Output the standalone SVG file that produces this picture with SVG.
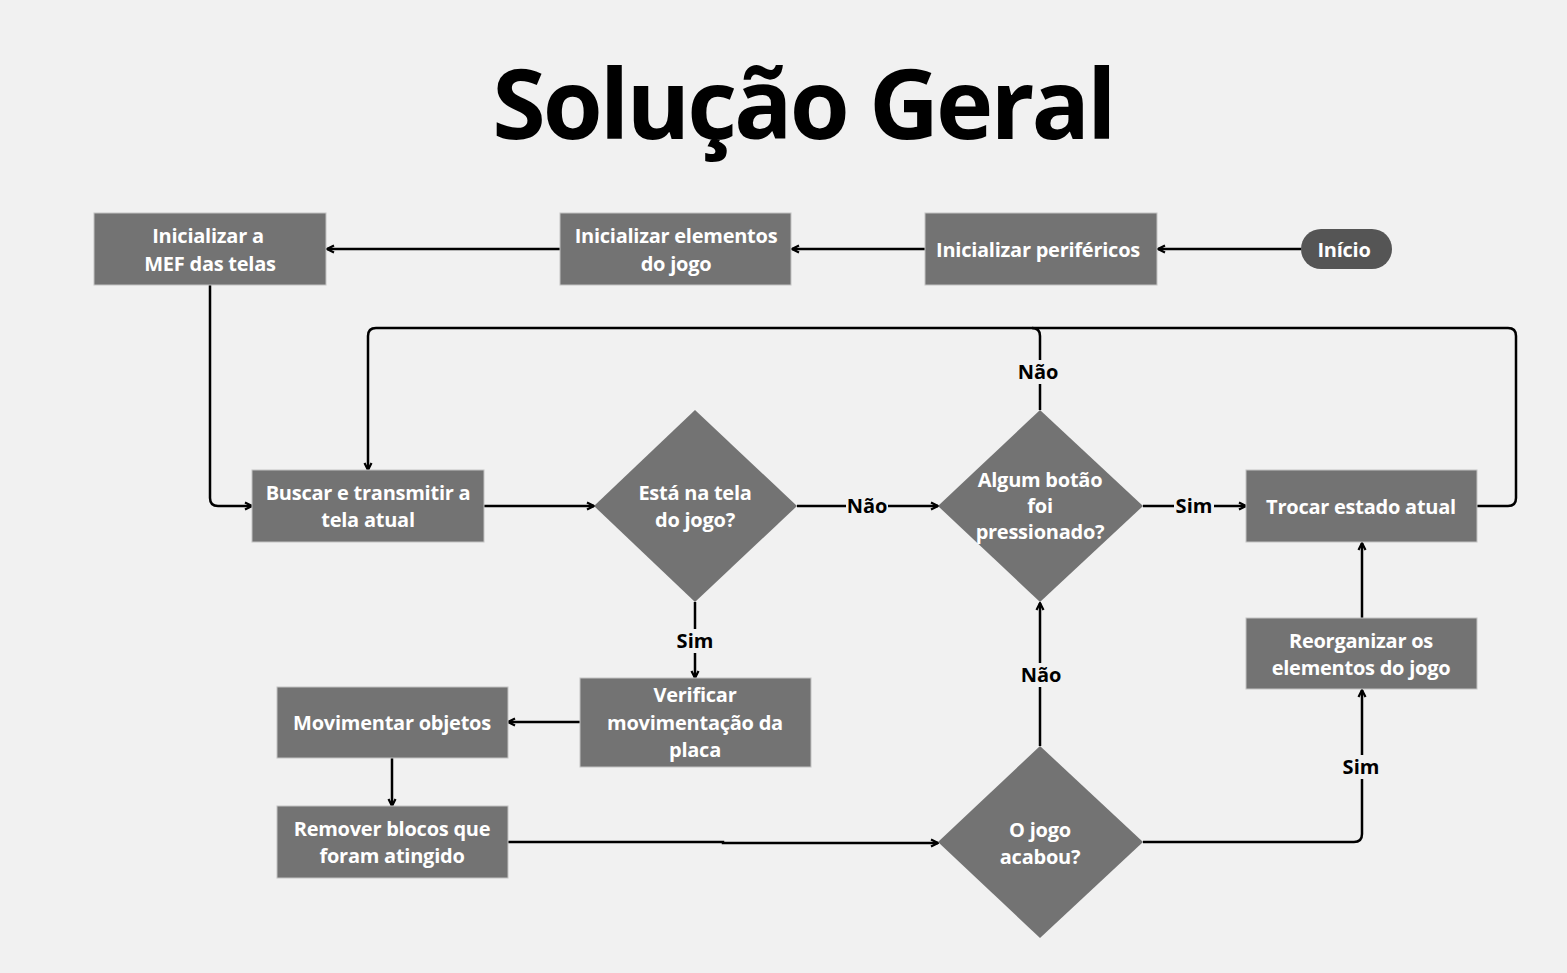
<svg xmlns="http://www.w3.org/2000/svg" width="1567" height="973" viewBox="0 0 1567 973">
<defs>
<style>
.box{fill:#737373;stroke:#c4c4c4;stroke-width:1}
.dia{fill:#737373}
.pill{fill:#555555}
.t{font-family:"Open Sans","Liberation Sans",sans-serif;font-weight:700;font-size:20px;fill:#ffffff;text-anchor:middle;letter-spacing:-0.25px}
.lbl{font-family:"Open Sans","Liberation Sans",sans-serif;font-weight:700;font-size:20px;fill:#000000;text-anchor:middle}
.lblbg{fill:#f1f1f1}
.c{fill:none;stroke:#000;stroke-width:2.5}
</style>
<marker id="ah" viewBox="0 0 10 10" refX="9" refY="5" markerWidth="10" markerHeight="10" markerUnits="userSpaceOnUse" orient="auto">
<path d="M2,1.5 L9,5 L2,8.5" fill="none" stroke="#000" stroke-width="2.2"/>
</marker>
</defs>
<rect width="1567" height="973" fill="#f1f1f1"/>
<text x="803" y="139" font-family="'Open Sans','Liberation Sans',sans-serif" font-weight="700" font-size="97" letter-spacing="-3" fill="#000" text-anchor="middle">Solução Geral</text>

<g id="connectors">
<path class="c" d="M1301 249 H1158" marker-end="url(#ah)"/>
<path class="c" d="M925 249 H792" marker-end="url(#ah)"/>
<path class="c" d="M560 249 H327" marker-end="url(#ah)"/>
<path class="c" d="M210 285 V498 Q210 506 218 506 H252" marker-end="url(#ah)"/>
<path class="c" d="M484 506 H594" marker-end="url(#ah)"/>
<path class="c" d="M797 506 H938" marker-end="url(#ah)"/>
<path class="c" d="M1143 506 H1246" marker-end="url(#ah)"/>
<path class="c" d="M1477 506 H1508 Q1516 506 1516 498 V336 Q1516 328 1508 328 H376 Q368 328 368 336 V470" marker-end="url(#ah)"/>
<path class="c" d="M1040 410 V336 Q1040 328 1032 328"/>
<path class="c" d="M695 602 V678" marker-end="url(#ah)"/>
<path class="c" d="M580 722 H508" marker-end="url(#ah)"/>
<path class="c" d="M392 758 V806" marker-end="url(#ah)"/>
<path class="c" d="M508 842 H723 V843 H938" marker-end="url(#ah)"/>
<path class="c" d="M1040 746 V603" marker-end="url(#ah)"/>
<path class="c" d="M1143 842 H1354 Q1362 842 1362 834 V690" marker-end="url(#ah)"/>
<path class="c" d="M1362 618 V543" marker-end="url(#ah)"/>
<g id="labels">
<rect class="lblbg" x="846" y="494" width="42" height="24"/>
<text class="lbl" x="867" y="513">Não</text>
<rect class="lblbg" x="1174" y="494" width="40" height="24"/>
<text class="lbl" x="1194" y="513">Sim</text>
<rect class="lblbg" x="1017" y="360" width="44" height="24"/>
<text class="lbl" x="1038" y="379">Não</text>
<rect class="lblbg" x="675" y="629" width="40" height="24"/>
<text class="lbl" x="695" y="648">Sim</text>
<rect class="lblbg" x="1019" y="663" width="44" height="24"/>
<text class="lbl" x="1041" y="682">Não</text>
<rect class="lblbg" x="1341" y="755" width="40" height="24"/>
<text class="lbl" x="1361" y="774">Sim</text>
</g>
</g>

<g id="inicio">
<rect class="pill" x="1301" y="229" width="91" height="40" rx="20" ry="20"/>
<text class="t" x="1344" y="257">Início</text>
</g>
<g id="perifericos">
<rect class="box" x="925" y="213" width="232" height="72"/>
<text class="t" x="1038" y="257">Inicializar periféricos</text>
</g>
<g id="elementos">
<rect class="box" x="560" y="213" width="231" height="72"/>
<text class="t" x="676" y="243">Inicializar elementos</text>
<text class="t" x="676" y="271">do jogo</text>
</g>
<g id="mef">
<rect class="box" x="94" y="213" width="232" height="72"/>
<text class="t" x="208" y="243">Inicializar a</text>
<text class="t" x="210" y="271">MEF das telas</text>
</g>
<g id="buscar">
<rect class="box" x="252" y="470" width="232" height="72"/>
<text class="t" x="368" y="500">Buscar e transmitir a</text>
<text class="t" x="368" y="527">tela atual</text>
</g>
<g id="esta-na-tela">
<polygon class="dia" points="695,410 797,506 695,602 594,506"/>
<text class="t" x="695" y="500">Está na tela</text>
<text class="t" x="695" y="527">do jogo?</text>
</g>
<g id="algum-botao">
<polygon class="dia" points="1040,410 1143,506 1040,602 938,506"/>
<text class="t" x="1040" y="487">Algum botão</text>
<text class="t" x="1040" y="513">foi</text>
<text class="t" x="1040" y="539">pressionado?</text>
</g>
<g id="trocar">
<rect class="box" x="1246" y="470" width="231" height="72"/>
<text class="t" x="1361" y="514">Trocar estado atual</text>
</g>
<g id="reorganizar">
<rect class="box" x="1246" y="618" width="231" height="71"/>
<text class="t" x="1361" y="648">Reorganizar os</text>
<text class="t" x="1361" y="675">elementos do jogo</text>
</g>
<g id="verificar">
<rect class="box" x="580" y="678" width="231" height="89"/>
<text class="t" x="695" y="702">Verificar</text>
<text class="t" x="695" y="730">movimentação da</text>
<text class="t" x="695" y="757">placa</text>
</g>
<g id="movimentar">
<rect class="box" x="277" y="687" width="231" height="71"/>
<text class="t" x="392" y="730">Movimentar objetos</text>
</g>
<g id="remover">
<rect class="box" x="277" y="806" width="231" height="72"/>
<text class="t" x="392" y="836">Remover blocos que</text>
<text class="t" x="392" y="863">foram atingido</text>
</g>
<g id="jogo-acabou">
<polygon class="dia" points="1040,746 1143,842 1040,938 938,842"/>
<text class="t" x="1040" y="837">O jogo</text>
<text class="t" x="1040" y="864">acabou?</text>
</g>
</svg>
